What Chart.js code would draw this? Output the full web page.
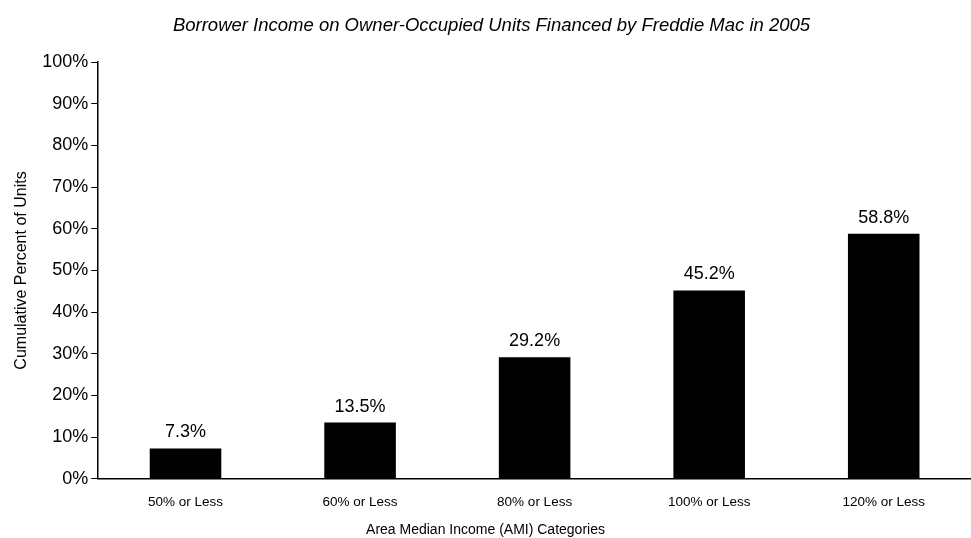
<!DOCTYPE html>
<html lang="en">
<head>
    <meta charset="UTF-8">
    <title>Borrower Income on Owner-Occupied Units</title>
    <script src="https://cdn.jsdelivr.net/npm/chart.js"></script>
    <style>
        html, body { margin: 0; padding: 0; background: #fff; }
        #wrap { width: 971px; height: 538px; }
    </style>
</head>
<body>
    <div id="wrap"><canvas id="amiChart"></canvas></div>
    <script>
        const categories = ["50% or Less", "60% or Less", "80% or Less", "100% or Less", "120% or Less"];
        const cumulativePct = [7.3, 13.5, 29.2, 45.2, 58.8];
        const yTicks = [0, 10, 20, 30, 40, 50, 60, 70, 80, 90, 100];
        const xTitle = "Area Median Income (AMI) Categories";

        const FONT = "Arial, 'Liberation Sans', sans-serif";

        // labels over each bar + x axis title centred on the whole canvas
        const barLabels = {
            id: "barLabels",
            afterDatasetsDraw(chart) {
                const ctx = chart.ctx;
                const meta = chart.getDatasetMeta(0);
                ctx.save();
                ctx.font = "18px " + FONT;
                ctx.fillStyle = "#000";
                ctx.textAlign = "center";
                ctx.textBaseline = "bottom";
                meta.data.forEach((bar, i) => {
                    ctx.fillText(cumulativePct[i].toFixed(1) + "%", bar.x, bar.y - 7);
                });
                ctx.font = "14px " + FONT;
                ctx.textBaseline = "middle";
                ctx.fillText(xTitle, chart.width / 2, chart.height - 8);
                ctx.restore();
            }
        };

        new Chart(document.getElementById("amiChart"), {
            type: "bar",
            data: {
                labels: categories,
                datasets: [{
                    data: cumulativePct,
                    backgroundColor: "#000",
                    borderWidth: 0,
                    barPercentage: 0.41,
                    categoryPercentage: 1
                }]
            },
            options: {
                responsive: true,
                maintainAspectRatio: false,
                animation: false,
                layout: { padding: { top: 2, right: 0, bottom: 21, left: 12 } },
                plugins: {
                    legend: { display: false },
                    tooltip: { enabled: false },
                    title: {
                        display: true,
                        text: "Borrower Income on Owner-Occupied Units Financed by Freddie Mac in 2005",
                        color: "#000",
                        font: { family: FONT, size: 18.5, style: "italic", weight: "normal" },
                        padding: { top: 13, bottom: 25 }
                    }
                },
                scales: {
                    x: {
                        grid: { display: false },
                        border: { display: true, color: "#000", width: 1.5 },
                        ticks: {
                            color: "#000",
                            font: { family: FONT, size: 13.5 },
                            padding: 7,
                            maxRotation: 0
                        }
                    },
                    y: {
                        min: 0,
                        max: 100,
                        afterBuildTicks(axis) {
                            axis.ticks = yTicks.map(v => ({ value: v }));
                        },
                        grid: {
                            drawOnChartArea: false,
                            drawTicks: true,
                            tickLength: 7,
                            color: "#000",
                            lineWidth: 1
                        },
                        border: { display: true, color: "#000", width: 1.5 },
                        ticks: {
                            color: "#000",
                            font: { family: FONT, size: 18 },
                            padding: 3,
                            callback: v => v + "%"
                        },
                        title: {
                            display: true,
                            text: "Cumulative Percent of Units",
                            color: "#000",
                            font: { family: FONT, size: 16 },
                            padding: { top: 0, bottom: 8 }
                        }
                    }
                }
            },
            plugins: [barLabels]
        });
    </script>
</body>
</html>
